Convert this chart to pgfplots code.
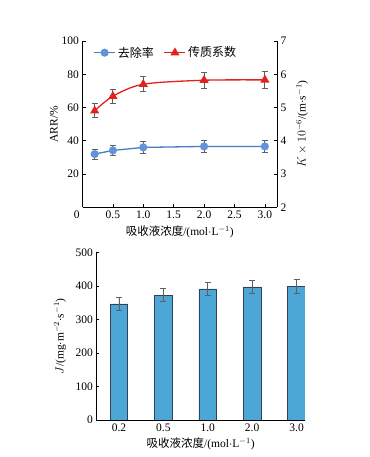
\documentclass[border=0pt]{standalone}
\usepackage{pgfplots}
\pgfplotsset{compat=1.18}
\usepackage{fontspec}
\setmainfont{Liberation Serif}
\newfontfamily\cjk{Noto Sans CJK SC}
\definecolor{bline}{RGB}{72,122,198}
\definecolor{bmark}{RGB}{98,148,218}
\definecolor{rline}{RGB}{226,34,30}
\definecolor{barfill}{RGB}{76,166,214}
\definecolor{baredge}{RGB}{50,66,84}
\definecolor{errc}{RGB}{95,95,95}
\begin{document}
\begin{tikzpicture}
\useasboundingbox (0pt,0pt) rectangle (369pt,457pt);
\pgfplotsset{every axis/.append style={
  font=\fontsize{11.5}{13.5}\selectfont,
  /pgf/number format/assume math mode=true,
  axis line style={black, line width=0.7pt},
  tick style={black, line width=0.6pt},
  major tick length=3pt,
  tick align=inside,
  scale only axis}}
% ---------- top left axis ----------
\begin{axis}[at={(82.5pt,249.7pt)}, anchor=south west,
  width=194.5pt, height=166.3pt,
  xmin=0, xmax=3.2, ymin=0, ymax=100,
  axis x line*=bottom, axis y line*=left,
  xtick={0,0.5,1.0,1.5,2.0,2.5,3.0},
  xticklabels={\makebox[0pt][r]{0\hspace{3pt}},0.5,1.0,1.5,2.0,2.5,3.0},
  ytick={20,40,60,80,100},
  xlabel={{\cjk 吸收液浓度}/(mol$\cdot$L$^{-1}$)},
  ylabel={ARR/\%},
  xlabel style={at={(axis description cs:0.5,-0.147)}, anchor=center},
  ylabel style={at={(axis description cs:-0.147,0.5)}, anchor=center, rotate=0},
]
\addplot[bline, line width=1.3pt, mark=*, mark size=3.4pt,
  mark options={fill=bmark, draw=bmark},
  error bars/.cd, y dir=both, y explicit,
  error bar style={errc, line width=0.8pt}, error mark options={errc, line width=0.8pt, mark size=3pt, rotate=90}]
coordinates {
(0.2,32.0) +- (0,3.0)
(0.5,34.2) +- (0,3.2)
(1.0,36.0) +- (0,3.4)
(2.0,36.6) +- (0,3.4)
(3.0,36.6) +- (0,3.4)
};
\end{axis}
% ---------- top right axis ----------
\begin{axis}[at={(82.5pt,249.7pt)}, anchor=south west,
  width=194.5pt, height=166.3pt,
  xmin=0, xmax=3.2, ymin=2, ymax=7,
  axis x line=none, axis y line*=right,
  ytick={2,3,4,5,6,7},
  ylabel={$K\times10^{-6}$/(m$\cdot$s$^{-1}$)},
  ylabel style={at={(axis description cs:1.129,0.5)}, anchor=center, rotate=0},
  legend style={at={(axis description cs:0.04,0.99)}, anchor=north west,
    draw=none, fill=none, font=\cjk\fontsize{12}{14}\selectfont,
    /tikz/every even column/.append style={column sep=8pt}},
  legend columns=2,
  legend image code/.code={\draw[#1] (0pt,0pt) -- (21pt,0pt); \draw[#1, mark repeat=1] plot coordinates {(10.5pt,0pt)};},
]
\addlegendimage{bline, line width=1.3pt, mark=*, mark size=3.4pt, mark options={fill=bmark, draw=bmark}}
\addlegendentry{去除率}
\addplot[rline, line width=1.3pt, smooth, mark=triangle*, mark size=4pt,
  mark options={fill=rline, draw=rline},
  error bars/.cd, y dir=both, y explicit,
  error bar style={errc, line width=0.8pt}, error mark options={errc, line width=0.8pt, mark size=3pt, rotate=90}]
coordinates {
(0.2,4.90) +- (0,0.21)
(0.5,5.34) +- (0,0.21)
(1.0,5.70) +- (0,0.23)
(2.0,5.82) +- (0,0.25)
(3.0,5.83) +- (0,0.25)
};
\addlegendentry{传质系数}
\end{axis}
% ---------- bottom bar chart ----------
\begin{axis}[at={(96.3pt,37pt)}, anchor=south west,
  width=208.7pt, height=167.3pt,
  xmin=-0.51, xmax=4.19, ymin=0, ymax=500,
  axis x line*=bottom, axis y line*=left,
  xtick={0,1,2,3,4},
  xticklabels={0.2,0.5,1.0,2.0,3.0},
  major x tick style={draw=none},
  ytick={0,100,200,300,400,500},
  xlabel={{\cjk 吸收液浓度}/(mol$\cdot$L$^{-1}$)},
  ylabel={$J$/(mg$\cdot$m$^{-2}\cdot$s$^{-1}$)},
  xlabel style={at={(axis description cs:0.5,-0.143)}, anchor=center},
  ylabel style={at={(axis description cs:-0.174,0.5)}, anchor=center, rotate=0},
]
\addplot[ybar, bar width=17.7pt, fill=barfill, draw=baredge, line width=0.6pt,
  error bars/.cd, y dir=both, y explicit,
  error bar style={errc, line width=0.8pt}, error mark options={errc, line width=0.8pt, mark size=3pt, rotate=90}]
coordinates {
(0,347) +- (0,18)
(1,373) +- (0,19)
(2,392) +- (0,20)
(3,398) +- (0,20)
(4,399) +- (0,20)
};
\end{axis}
\end{tikzpicture}
\end{document}
